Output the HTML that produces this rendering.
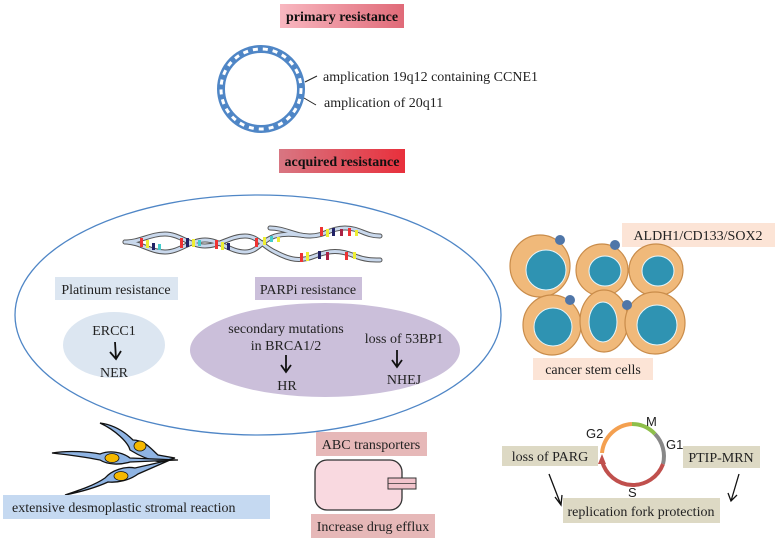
<!DOCTYPE html>
<html><head><meta charset="utf-8"><style>
html,body{margin:0;padding:0;background:#fff;}
svg{display:block;font-family:"Liberation Serif",serif;}
</style></head><body>
<svg width="777" height="544" viewBox="0 0 777 544" xmlns="http://www.w3.org/2000/svg">
<defs>
<linearGradient id="g1" x1="0" x2="1"><stop offset="0" stop-color="#f8b7c0"/><stop offset="1" stop-color="#e06a78"/></linearGradient>
<linearGradient id="g2" x1="0" x2="1"><stop offset="0" stop-color="#d87682"/><stop offset="1" stop-color="#e8303c"/></linearGradient>
</defs>
<!-- headers -->
<rect x="280" y="4" width="124" height="24" fill="url(#g1)"/>
<text x="342" y="21" font-size="14" font-weight="bold" text-anchor="middle" fill="#111">primary resistance</text>
<rect x="279" y="149" width="126" height="24" fill="url(#g2)"/>
<text x="342" y="166" font-size="14" font-weight="bold" text-anchor="middle" fill="#111">acquired resistance</text>
<!-- DNA ring -->
<circle cx="261" cy="89" r="40" fill="none" stroke="#4f86c6" stroke-width="8"/>
<circle cx="261" cy="89" r="40" fill="none" stroke="#fff" stroke-width="3" stroke-dasharray="5 5"/>
<line x1="305" y1="82" x2="317" y2="76" stroke="#222"/>
<line x1="304" y1="98" x2="316" y2="105" stroke="#222"/>
<text x="323" y="81" font-size="14" fill="#222">amplication 19q12 containing CCNE1</text>
<text x="324" y="107" font-size="14" fill="#222">amplication of 20q11</text>
<!-- big ellipse -->
<ellipse cx="258" cy="315" rx="243" ry="120" fill="none" stroke="#4f86c6" stroke-width="1.3"/>
<!-- DNA -->
<g fill="none" stroke-linecap="round">
<g stroke="#555" stroke-width="5">
<path id="s1" d="M125 242 C140 242 150 252 165 252 C180 252 190 240 205 240 C220 240 230 252 245 252 C258 252 262 240 275 236 C290 232 300 236 310 236 C325 236 330 228 345 228 C360 228 365 236 380 236"/>
<path id="s2" d="M125 242 C140 242 150 234 165 234 C180 234 190 246 205 246 C220 246 230 236 245 236 C258 236 262 246 275 252 C290 260 300 262 315 256 C330 250 340 250 355 256 C365 260 372 260 380 260"/>
<path id="s3" d="M270 228 C285 228 295 236 310 236"/>
</g>
<g stroke="#c9d8ec" stroke-width="3">
<use href="#s1"/><use href="#s2"/><use href="#s3"/>
</g>
</g>
<g>
<rect x="140" y="238" width="3" height="9" fill="#e33"/><rect x="146" y="240" width="3" height="8" fill="#ee3"/><rect x="152" y="243" width="3" height="7" fill="#226"/><rect x="158" y="244" width="3" height="6" fill="#4cc"/>
<rect x="180" y="238" width="3" height="10" fill="#e33"/><rect x="186" y="238" width="3" height="9" fill="#226"/><rect x="192" y="239" width="3" height="8" fill="#ee3"/><rect x="198" y="240" width="3" height="6" fill="#4cc"/>
<rect x="215" y="240" width="3" height="9" fill="#e33"/><rect x="221" y="242" width="3" height="8" fill="#ee3"/><rect x="227" y="243" width="3" height="7" fill="#226"/>
<rect x="255" y="238" width="3" height="9" fill="#e33"/><rect x="263" y="237" width="3" height="8" fill="#ee3"/><rect x="270" y="236" width="3" height="6" fill="#4cc"/><rect x="277" y="237" width="3" height="5" fill="#ee3"/>
<rect x="320" y="227" width="3" height="9" fill="#e33"/><rect x="326" y="229" width="3" height="8" fill="#ee3"/><rect x="332" y="228" width="3" height="8" fill="#226"/><rect x="340" y="229" width="3" height="7" fill="#a24"/><rect x="348" y="228" width="3" height="8" fill="#e33"/><rect x="355" y="230" width="3" height="6" fill="#ee3"/>
<rect x="300" y="253" width="3" height="9" fill="#e33"/><rect x="306" y="252" width="3" height="9" fill="#ee3"/><rect x="318" y="251" width="3" height="8" fill="#226"/><rect x="326" y="252" width="3" height="8" fill="#a24"/><rect x="345" y="252" width="3" height="8" fill="#e33"/><rect x="353" y="252" width="3" height="7" fill="#ee3"/>
</g>
<!-- platinum -->
<rect x="55" y="277" width="123" height="23" fill="#dce6f1"/>
<text x="116" y="294" font-size="14" text-anchor="middle" fill="#222">Platinum resistance</text>
<rect x="255" y="277" width="107" height="23" fill="#cbbfda"/>
<text x="308" y="294" font-size="14" text-anchor="middle" fill="#222">PARPi resistance</text>
<ellipse cx="114" cy="345" rx="51" ry="33" fill="#dce6f1"/>
<text x="114" y="335" font-size="14" text-anchor="middle" fill="#222">ERCC1</text>
<text x="114" y="377" font-size="14" text-anchor="middle" fill="#222">NER</text>
<ellipse cx="325" cy="350" rx="135" ry="47" fill="#cbbfda"/>
<text x="286" y="333" font-size="14" text-anchor="middle" fill="#222">secondary mutations</text>
<text x="286" y="350" font-size="14" text-anchor="middle" fill="#222">in BRCA1/2</text>
<text x="287" y="390" font-size="14" text-anchor="middle" fill="#222">HR</text>
<text x="404" y="343" font-size="14" text-anchor="middle" fill="#222">loss of 53BP1</text>
<text x="404" y="384" font-size="14" text-anchor="middle" fill="#222">NHEJ</text>
<g stroke="#111" stroke-width="1.8" fill="none">
<path d="M115 342 L116 359 M110 352 L116 359 L121 351"/>
<path d="M286 355 L286 372 M281 365 L286 372 L291 365"/>
<path d="M397 350 L397 367 M392 360 L397 367 L402 360"/>
</g>
<!-- cancer stem cells -->
<rect x="622" y="223" width="153" height="24" fill="#fce4d6"/>
<text x="698" y="240" font-size="14" text-anchor="middle" fill="#222">ALDH1/CD133/SOX2</text>
<g stroke="#c98c4a" stroke-width="1.2" fill="#f0b97a">
<ellipse cx="540" cy="266" rx="30" ry="31"/><ellipse cx="602" cy="270" rx="26" ry="26"/><ellipse cx="656" cy="270" rx="27" ry="26"/>
<ellipse cx="552" cy="325" rx="29" ry="30"/><ellipse cx="604" cy="321" rx="24" ry="31"/><ellipse cx="655" cy="323" rx="30" ry="31"/>
</g>
<g stroke="#e8f6fb" stroke-width="1" fill="#2f93b2">
<ellipse cx="546" cy="270" rx="20" ry="20"/><ellipse cx="605" cy="271" rx="16" ry="15"/><ellipse cx="658" cy="271" rx="16" ry="15"/>
<ellipse cx="553" cy="327" rx="19" ry="19"/><ellipse cx="603" cy="322" rx="14" ry="20"/><ellipse cx="657" cy="325" rx="20" ry="20"/>
</g>
<g fill="#4f76a8"><circle cx="560" cy="240" r="5"/><circle cx="615" cy="245" r="5"/><circle cx="570" cy="300" r="5"/><circle cx="627" cy="305" r="5"/></g>
<rect x="533" y="358" width="120" height="22" fill="#fce4d6"/>
<text x="593" y="374" font-size="14" text-anchor="middle" fill="#222">cancer stem cells</text>
<!-- fibroblasts -->
<g stroke="#111" stroke-width="1.3" fill="#8fb4e3">
<path d="M100 423 C115 425 125 432 133 440 C145 440 152 450 158 455 L175 458 L160 462 C148 460 138 455 130 450 C128 442 115 430 100 423Z"/>
<path d="M52 453 C70 450 90 452 100 454 C110 450 122 452 130 458 L178 460 L130 462 C120 465 108 465 100 460 C85 457 70 455 52 453Z"/>
<path d="M65 495 C80 490 95 485 105 478 C112 470 125 466 135 468 L170 460 L138 474 C130 480 118 483 108 482 C95 488 80 492 65 495Z"/>
</g>
<g fill="#f5b800" stroke="#111" stroke-width="0.8"><ellipse cx="140" cy="446" rx="6" ry="5"/><ellipse cx="112" cy="458" rx="7" ry="4.5"/><ellipse cx="121" cy="476" rx="7" ry="4.5"/></g>
<rect x="3" y="495" width="267" height="24" fill="#c5d9f1"/>
<text x="12" y="512" font-size="14" fill="#222">extensive desmoplastic stromal reaction</text>
<!-- ABC -->
<rect x="316" y="432" width="111" height="24" fill="#e6b8b8"/>
<text x="371" y="449" font-size="14" text-anchor="middle" fill="#222">ABC transporters</text>
<rect x="315" y="460" width="87" height="50" rx="12" fill="#f9d9e0" stroke="#333" stroke-width="1.3"/>
<rect x="388" y="478" width="28" height="11" fill="#f2c4cc" stroke="#333" stroke-width="1"/>
<line x1="388" y1="483.5" x2="416" y2="483.5" stroke="#333" stroke-width="0.8"/>
<rect x="311" y="514" width="124" height="24" fill="#e6b8b8"/>
<text x="373" y="531" font-size="14" text-anchor="middle" fill="#222">Increase drug efflux</text>
<!-- cell cycle -->
<g fill="none" stroke-width="4">
<path d="M602 453 A32 32 0 0 1 632 424" stroke="#f4a050"/>
<path d="M632 424 A32 32 0 0 1 655 434" stroke="#8ebf4a"/>
<path d="M655 434 A32 32 0 0 1 663 464" stroke="#888"/>
<path d="M663 464 A32 32 0 0 1 602 461" stroke="#c0504d"/>
</g>
<path d="M598 464 L602 454 L606 464Z" fill="#c0504d"/>
<g font-family="Liberation Sans,sans-serif" font-size="13" fill="#222">
<text x="586" y="438">G2</text><text x="646" y="426">M</text><text x="666" y="449">G1</text><text x="628" y="497">S</text>
</g>
<rect x="502" y="446" width="96" height="20" fill="#ddd9c4"/>
<text x="550" y="461" font-size="14" text-anchor="middle" fill="#222">loss of PARG</text>
<rect x="683" y="446" width="77" height="22" fill="#ddd9c4"/>
<text x="721" y="462" font-size="14" text-anchor="middle" fill="#222">PTIP-MRN</text>
<rect x="563" y="498" width="157" height="25" fill="#ddd9c4"/>
<text x="641" y="516" font-size="14" text-anchor="middle" fill="#222">replication fork protection</text>
<g stroke="#111" stroke-width="1.3" fill="none">
<path d="M549 474 L561 505 M555 497 L561 505 L562 495"/>
<path d="M739 474 L731 501 M728 493 L731 501 L737 495"/>
</g>
</svg>
</body></html>
